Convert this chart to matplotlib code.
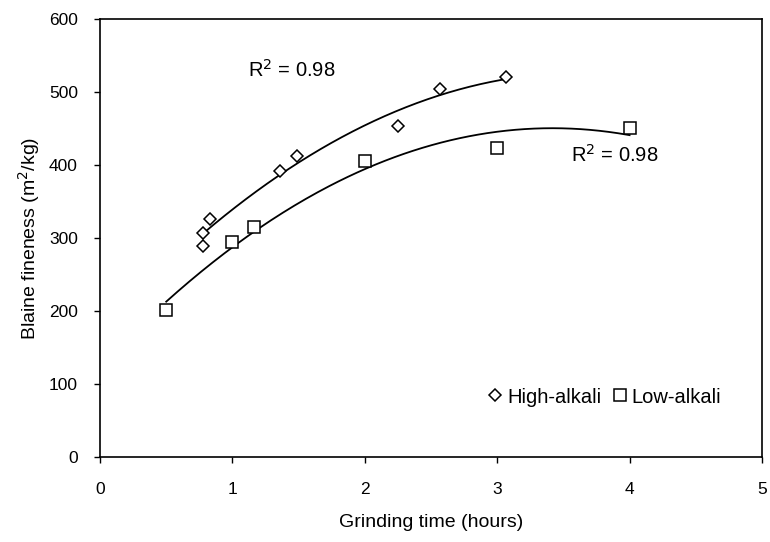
import numpy as np
import matplotlib
matplotlib.use("Agg")
import matplotlib.pyplot as plt

plt.rcParams['font.family'] = ['Liberation Sans', 'DejaVu Sans']

# Grinding time (hours) and Blaine fineness (m2/kg)
high_time = [0.78, 0.78, 0.83, 1.36, 1.49, 2.25, 2.57, 3.07]
high_blaine = [289, 307, 326, 392, 412, 454, 504, 520]
low_time = [0.5, 1.0, 1.16, 2.0, 3.0, 4.0]
low_blaine = [201, 295, 315, 405, 423, 450]

x_ticks = [0, 1, 2, 3, 4, 5]
y_ticks = [0, 100, 200, 300, 400, 500, 600]
r2_labels = ["R$^2$ = 0.98", "R$^2$ = 0.98"]

fig = plt.figure(figsize=(7.7, 5.42), dpi=100)
ax = fig.add_axes([0.1299, 0.1568, 0.8597, 0.8082])


def quad_trend(x, y):
    coef = np.polyfit(x, y, 2)
    xs = np.linspace(min(x), max(x), 200)
    return xs, np.polyval(coef, xs)


for x, y in [(high_time, high_blaine), (low_time, low_blaine)]:
    xs, ys = quad_trend(x, y)
    ax.plot(xs, ys, color='black', lw=1.3, zorder=2)

ax.plot(high_time, high_blaine, linestyle='none', marker='D', ms=6.3,
        mfc='white', mec='black', mew=1.1, label='High-alkali', zorder=3)
ax.plot(low_time, low_blaine, linestyle='none', marker='s', ms=8.5,
        mfc='white', mec='black', mew=1.1, label='Low-alkali', zorder=3)

ax.text(1.12, 530, r2_labels[0], fontsize=14.5, va='center', ha='left')
ax.text(3.56, 414, r2_labels[1], fontsize=14.5, va='center', ha='left')

ax.set_xlim(0, 5)
ax.set_ylim(0, 600)
ax.set_xticks(x_ticks)
ax.set_yticks(y_ticks)
ax.tick_params(direction='out', length=4, width=1, labelsize=12.5)
ax.tick_params(axis='x', pad=14)
ax.tick_params(axis='y', pad=12)
for s in ax.spines.values():
    s.set_linewidth(1.2)

ax.set_xlabel('Grinding time (hours)', fontsize=14, labelpad=12)
ax.set_ylabel('Blaine fineness (m$^2$/kg)', fontsize=14, labelpad=5)

ax.legend(loc='center right', bbox_to_anchor=(0.951, 0.137), ncol=2,
          frameon=False, fontsize=14.5, handlelength=0.8, handletextpad=0.2,
          columnspacing=0.5, borderaxespad=0)

fig.savefig('out.png', dpi=100)
